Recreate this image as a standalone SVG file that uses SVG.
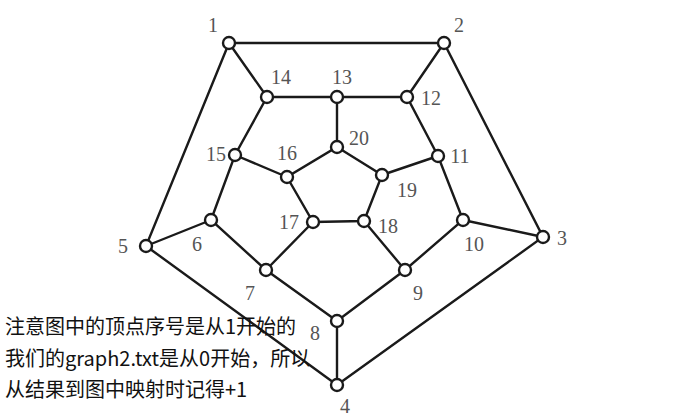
<svg xmlns="http://www.w3.org/2000/svg" width="690" height="420" viewBox="0 0 690 420">
<style>
.e{stroke:#1a1a1a;stroke-width:2.4;fill:none}
.n{fill:#fff;stroke:#1a1a1a;stroke-width:2.4}
.l{font-family:"Liberation Serif","DejaVu Serif",serif;font-size:20px;fill:#555;text-anchor:middle}
.t{font-family:"Noto Sans CJK SC","Noto Sans",sans-serif;font-size:20px;fill:#111}
</style>
<rect width="690" height="420" fill="#fff"/>
<g id="connectors">
<path class="e" d="M229,43L444,43L543,237L337,385L146,246Z"/>
<path class="e" d="M229,43L267,97M444,43L407,97M543,237L463,220M337,385L337,321M146,246L211,220"/>
<path class="e" d="M267,97L337,97L407,97L438,156L463,220L405,270L337,321L266,270L211,220L235,155Z"/>
<path class="e" d="M337,97L337,147M438,156L382,175M405,270L364,221M266,270L313,222M235,155L287,177"/>
<path class="e" d="M337,147L382,175L364,221L313,222L287,177Z"/>
</g>
<g id="n1"><circle class="n" cx="229" cy="43" r="6"/><text class="l" x="213" y="32">1</text></g>
<g id="n2"><circle class="n" cx="444" cy="43" r="6"/><text class="l" x="459" y="32">2</text></g>
<g id="n3"><circle class="n" cx="543" cy="237" r="6"/><text class="l" x="562" y="245">3</text></g>
<g id="n4"><circle class="n" cx="337" cy="385" r="6"/><text class="l" x="345" y="413">4</text></g>
<g id="n5"><circle class="n" cx="146" cy="246" r="6"/><text class="l" x="123" y="253">5</text></g>
<g id="n6"><circle class="n" cx="211" cy="220" r="6"/><text class="l" x="197" y="251">6</text></g>
<g id="n7"><circle class="n" cx="266" cy="270" r="6"/><text class="l" x="250" y="300">7</text></g>
<g id="n8"><circle class="n" cx="337" cy="321" r="6"/><text class="l" x="315" y="340">8</text></g>
<g id="n9"><circle class="n" cx="405" cy="270" r="6"/><text class="l" x="418" y="300">9</text></g>
<g id="n10"><circle class="n" cx="463" cy="220" r="6"/><text class="l" x="474" y="251">10</text></g>
<g id="n11"><circle class="n" cx="438" cy="156" r="6"/><text class="l" x="460" y="163">11</text></g>
<g id="n12"><circle class="n" cx="407" cy="97" r="6"/><text class="l" x="431" y="105">12</text></g>
<g id="n13"><circle class="n" cx="337" cy="97" r="6"/><text class="l" x="342" y="84">13</text></g>
<g id="n14"><circle class="n" cx="267" cy="97" r="6"/><text class="l" x="281" y="84">14</text></g>
<g id="n15"><circle class="n" cx="235" cy="155" r="6"/><text class="l" x="216" y="161">15</text></g>
<g id="n16"><circle class="n" cx="287" cy="177" r="6"/><text class="l" x="287" y="160">16</text></g>
<g id="n17"><circle class="n" cx="313" cy="222" r="6"/><text class="l" x="289" y="229">17</text></g>
<g id="n18"><circle class="n" cx="364" cy="221" r="6"/><text class="l" x="388" y="233">18</text></g>
<g id="n19"><circle class="n" cx="382" cy="175" r="6"/><text class="l" x="407" y="197">19</text></g>
<g id="n20"><circle class="n" cx="337" cy="147" r="6"/><text class="l" x="359" y="145">20</text></g>
<g id="note">
<text class="t" x="5" y="334">注意图中的顶点序号是从1开始的</text>
<text class="t" x="5" y="366">我们的graph2.txt是从0开始，所以</text>
<text class="t" x="5" y="397">从结果到图中映射时记得+1</text>
</g>
</svg>
